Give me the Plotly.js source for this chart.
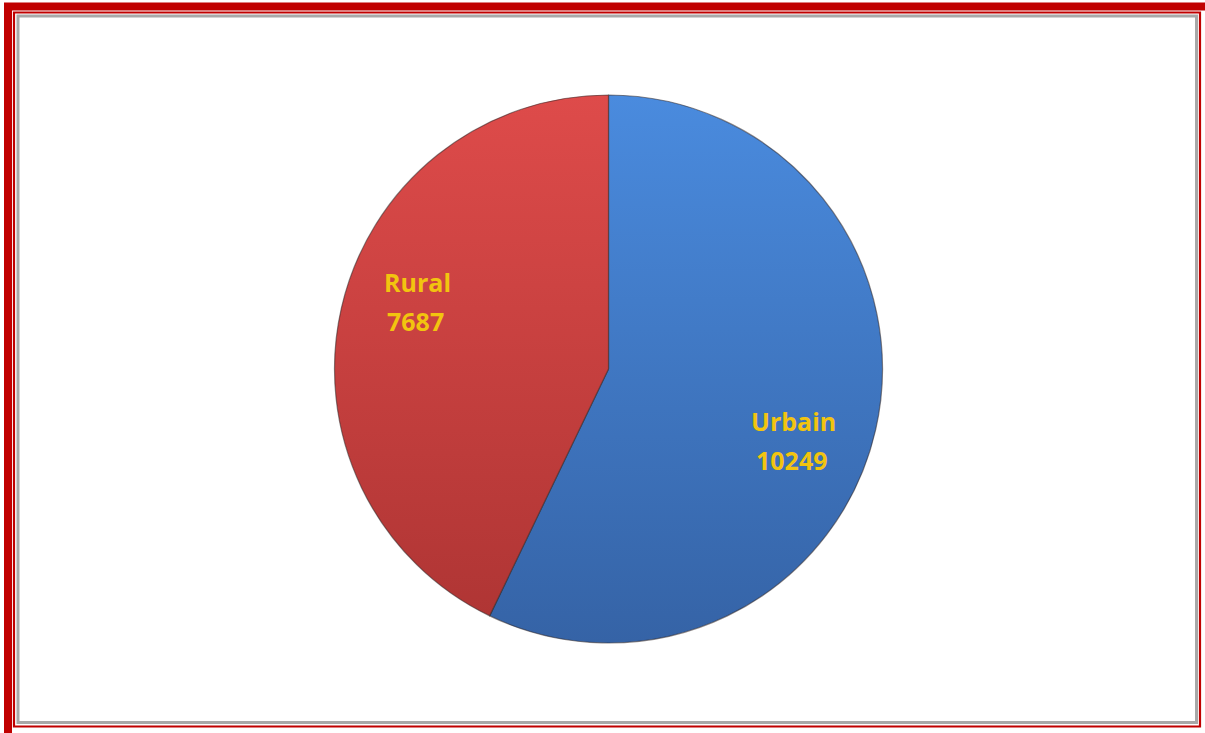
<!DOCTYPE html>
<html>
<head>
<meta charset="utf-8">
<script src="https://cdn.plot.ly/plotly-3.0.1.min.js"></script>
<style>
html,body{margin:0;padding:0;background:#fff;}
#chart{width:1205px;height:733px;}
</style>
</head>
<body>
<div id="chart"></div>
<script>
const categories = ['Urbain', 'Rural'];
const values = [10249, 7687];
const colors = ['#3F78C2', '#C94342'];
const gradTop = ['#4A8BDE', '#DE4B4A'];
const gradBottom = ['#3563A6', '#AD3433'];

const W = 1205, H = 733;
const px = x => x / W;
const py = y => 1 - y / H;

const total = values.reduce((a, b) => a + b, 0);
const cx = 608.5, cy = 369, r = 274;
const labelRadius = 0.73;
const lineGap = 39;
let start = 0;
const annotations = [];
categories.forEach((c, i) => {
  const frac = values[i] / total;
  const mid = (start + frac / 2) * 2 * Math.PI + 0.13;
  start += frac;
  const x = cx + Math.sin(mid) * r * labelRadius - 3;
  const y = cy - Math.cos(mid) * r * labelRadius + 4;
  const font = {family: 'Open Sans, sans-serif', size: 25, color: '#F2C40F', weight: 'bold'};
  annotations.push({xref: 'paper', yref: 'paper', x: px(x), y: py(y - lineGap / 2 - 2),
    text: c, showarrow: false, font: font});
  annotations.push({xref: 'paper', yref: 'paper', x: px(x - 2), y: py(y + lineGap / 2 - 2),
    text: String(values[i]), showarrow: false, font: font});
});

const data = [{
  type: 'pie',
  labels: categories,
  values: values,
  sort: false,
  direction: 'clockwise',
  rotation: 0,
  textinfo: 'none',
  hoverinfo: 'label+value',
  marker: {colors: colors, line: {color: 'rgba(50,40,40,0.55)', width: 1.2}},
  domain: {x: [px(cx - r), px(cx + r)], y: [py(cy + r), py(cy - r)]},
  showlegend: false
}];

const shapes = [
  {type: 'rect', xref: 'paper', yref: 'paper', x0: px(8), x1: px(1209), y0: py(6.5), y1: py(737),
   line: {color: '#C00000', width: 8}, fillcolor: 'rgba(0,0,0,0)'},
  {type: 'rect', xref: 'paper', yref: 'paper', x0: px(14), x1: px(1200), y0: py(12.5), y1: py(726.5),
   line: {color: '#C00000', width: 2.2}, fillcolor: 'rgba(0,0,0,0)'},
  {type: 'rect', xref: 'paper', yref: 'paper', x0: px(18), x1: px(1196.5), y0: py(16), y1: py(722.5),
   line: {color: '#A8A8A8', width: 3}, fillcolor: 'rgba(0,0,0,0)'}
];

const layout = {
  width: W, height: H,
  margin: {l: 0, r: 0, t: 0, b: 0},
  paper_bgcolor: '#FFFFFF',
  plot_bgcolor: '#FFFFFF',
  showlegend: false,
  annotations: annotations,
  shapes: shapes
};

Plotly.newPlot('chart', data, layout, {displayModeBar: false, staticPlot: true}).then(gd => {
  const svg = gd.querySelector('svg.main-svg');
  const ns = 'http://www.w3.org/2000/svg';
  let defs = svg.querySelector('defs');
  if (!defs) { defs = document.createElementNS(ns, 'defs'); svg.insertBefore(defs, svg.firstChild); }
  categories.forEach((c, i) => {
    const g = document.createElementNS(ns, 'linearGradient');
    g.setAttribute('id', 'sliceGrad' + i);
    g.setAttribute('gradientUnits', 'userSpaceOnUse');
    g.setAttribute('x1', 0); g.setAttribute('x2', 0);
    g.setAttribute('y1', cy - r); g.setAttribute('y2', cy + r);
    [[0, gradTop[i]], [1, gradBottom[i]]].forEach(([o, col]) => {
      const s = document.createElementNS(ns, 'stop');
      s.setAttribute('offset', o); s.setAttribute('stop-color', col);
      g.appendChild(s);
    });
    defs.appendChild(g);
  });
  gd.querySelectorAll('g.slice').forEach((sl, i) => {
    const p = sl.querySelector('path.surface');
    if (p) p.style.fill = 'url(#sliceGrad' + i + ')';
  });
});
</script>
</body>
</html>
